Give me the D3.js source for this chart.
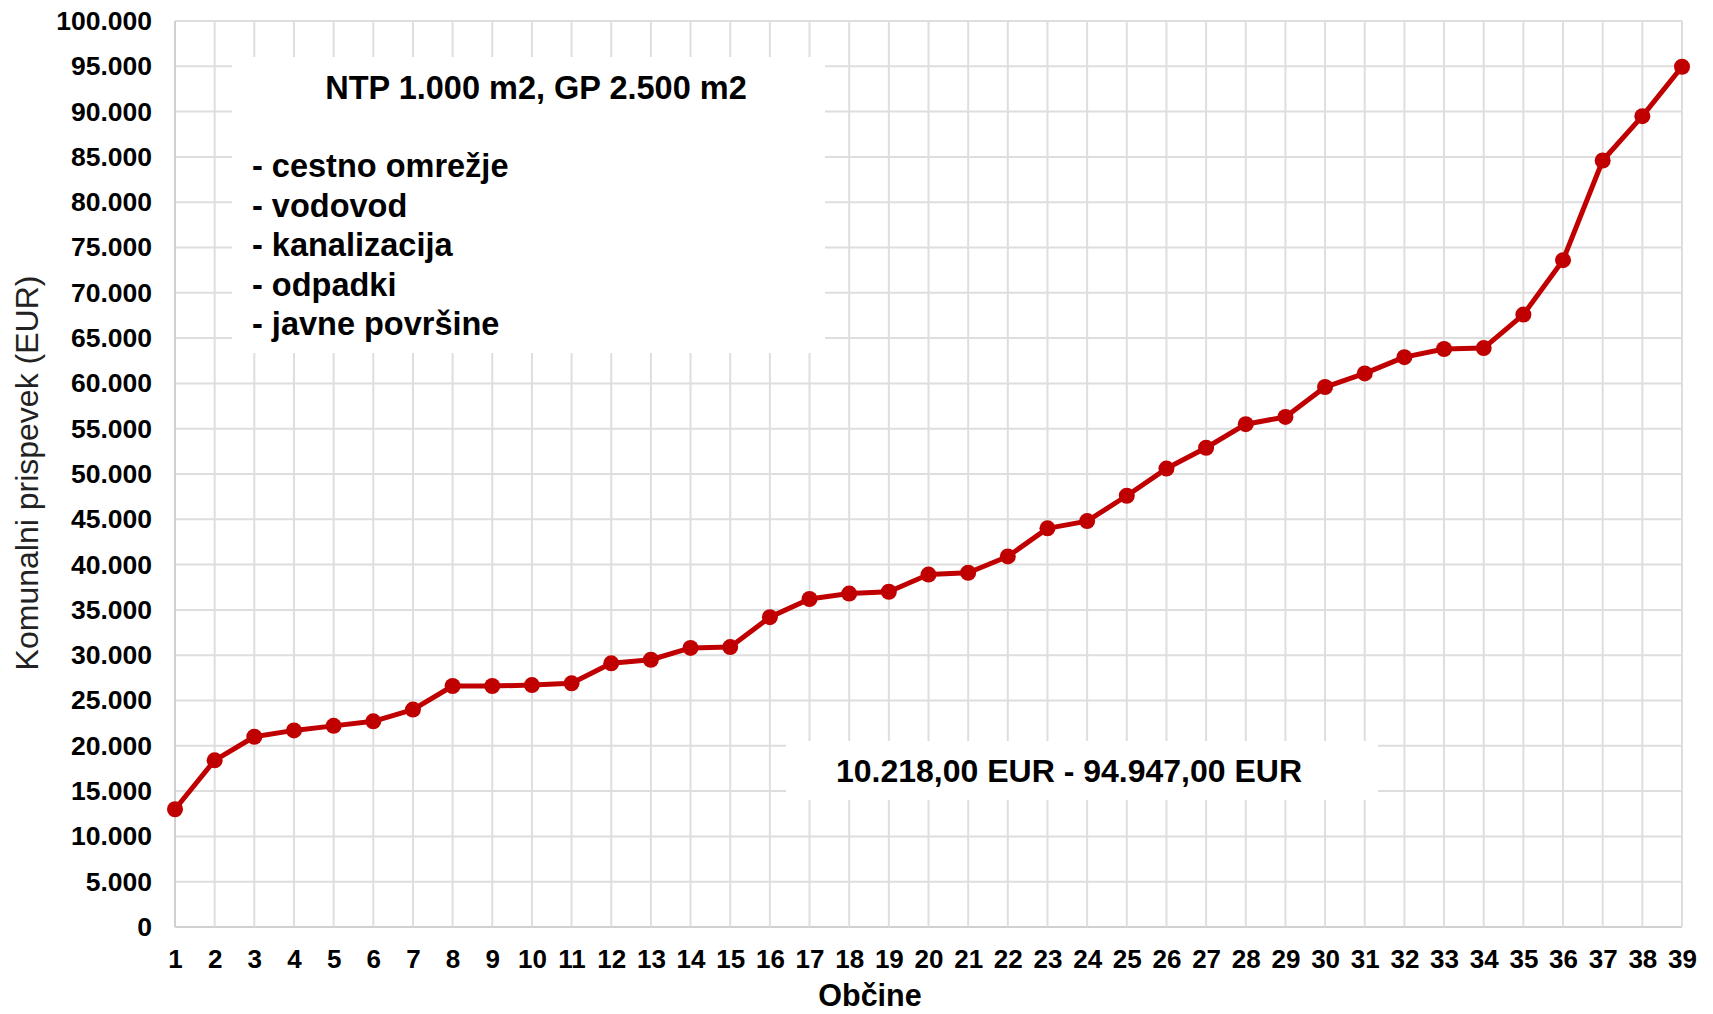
<!DOCTYPE html>
<html>
<head>
<meta charset="utf-8">
<script src="https://cdn.jsdelivr.net/npm/d3@7"></script>
<style>
  html, body { margin: 0; padding: 0; background: #fff; }
  svg { display: block; font-family: "Liberation Sans", Arial, sans-serif; }
</style>
</head>
<body>
<svg id="chart" width="1713" height="1014"></svg>
<script>
// ---- data ----
const categories = d3.range(1, 40); // občine 1..39
const values = [
  13000, 18400, 21000, 21700, 22200, 22700, 24000, 26600, 26600, 26700,
  26900, 29100, 29500, 30800, 30900, 34200, 36200, 36800, 37000, 38900,
  39100, 40900, 44000, 44800, 47600, 50600, 52900, 55500, 56300, 59600,
  61100, 62900, 63800, 63900, 67600, 73600, 84600, 89500, 94947
];
const yTicks = d3.range(0, 100001, 5000);
const titleText = "NTP 1.000 m2, GP 2.500 m2";
const listItems = ["cestno omrežje", "vodovod", "kanalizacija", "odpadki", "javne površine"];
const rangeText = "10.218,00 EUR - 94.947,00 EUR";
const xTitle = "Občine";
const yTitle = "Komunalni prispevek (EUR)";

// ---- layout ----
const svg = d3.select("#chart");
const plot = { left: 175, right: 1682, top: 21, bottom: 927 };
const x = d3.scaleLinear().domain([1, 39]).range([plot.left, plot.right]);
const y = d3.scaleLinear().domain([0, 100000]).range([plot.bottom, plot.top]);
const fmt = d3.formatLocale({ decimal: ",", thousands: ".", grouping: [3], currency: ["", ""] }).format(",d");
const red = "#c00000";
const gridColor = "#dedede";

// gridlines
const grid = svg.append("g");
grid.selectAll("line.h").data(yTicks).join("line")
  .attr("x1", plot.left).attr("x2", plot.right)
  .attr("y1", d => y(d)).attr("y2", d => y(d))
  .attr("stroke", d => d === 0 ? "#d0d0d0" : gridColor).attr("stroke-width", 2);
grid.selectAll("line.v").data(categories).join("line")
  .attr("x1", d => x(d)).attr("x2", d => x(d))
  .attr("y1", plot.top).attr("y2", plot.bottom)
  .attr("stroke", d => d === 1 ? "#d0d0d0" : gridColor).attr("stroke-width", 2);

// y axis labels
const yAxis = d3.axisLeft(y).tickValues(yTicks).tickFormat(fmt).tickSize(0).tickPadding(0);
const gy = svg.append("g").attr("transform", "translate(152,0)").call(yAxis);
gy.select(".domain").remove();
gy.selectAll("text").attr("font-size", 26.5).attr("font-weight", "bold").attr("fill", "#000")
  .attr("font-family", "\"Liberation Sans\", Arial, sans-serif");

// x axis labels
const xAxis = d3.axisBottom(x).tickValues(categories).tickFormat(d3.format("d")).tickSize(0).tickPadding(0);
const gx = svg.append("g").attr("transform", "translate(0,950)").call(xAxis);
gx.select(".domain").remove();
gx.selectAll("text").attr("font-size", 26).attr("font-weight", "bold").attr("fill", "#000")
  .attr("font-family", "\"Liberation Sans\", Arial, sans-serif")
  .attr("dy", "0.71em");

// axis titles
svg.append("text").attr("x", 870).attr("y", 1006).attr("text-anchor", "middle")
  .attr("font-size", 30.5).attr("font-weight", "bold").attr("fill", "#000").text(xTitle);
svg.append("text").attr("transform", "translate(38,473) rotate(-90)").attr("text-anchor", "middle")
  .attr("font-size", 32).attr("fill", "#222").text(yTitle);

// white annotation boxes
svg.append("rect").attr("x", 232).attr("y", 57).attr("width", 593).attr("height", 296).attr("fill", "#fff");
svg.append("rect").attr("x", 786).attr("y", 741).attr("width", 592).attr("height", 59).attr("fill", "#fff");

// annotation texts
svg.append("text").attr("x", 536).attr("y", 99).attr("text-anchor", "middle")
  .attr("font-size", 32.5).attr("font-weight", "bold").attr("fill", "#000").text(titleText);
svg.append("g").selectAll("text").data(listItems).join("text")
  .attr("x", 252).attr("y", (d, i) => 177 + i * 39.5)
  .attr("font-size", 32.5).attr("font-weight", "bold").attr("fill", "#000")
  .text(d => "- " + d);
svg.append("text").attr("x", 1069).attr("y", 782).attr("text-anchor", "middle")
  .attr("font-size", 32).attr("font-weight", "bold").attr("fill", "#000").text(rangeText);

// line + markers
const pts = categories.map((c, i) => [c, values[i]]);
svg.append("path").datum(pts)
  .attr("d", d3.line().x(d => x(d[0])).y(d => y(d[1])))
  .attr("fill", "none").attr("stroke", red).attr("stroke-width", 5).attr("stroke-linejoin", "round");
svg.append("g").selectAll("circle").data(pts).join("circle")
  .attr("cx", d => x(d[0])).attr("cy", d => y(d[1])).attr("r", 8).attr("fill", red);
</script>
</body>
</html>
